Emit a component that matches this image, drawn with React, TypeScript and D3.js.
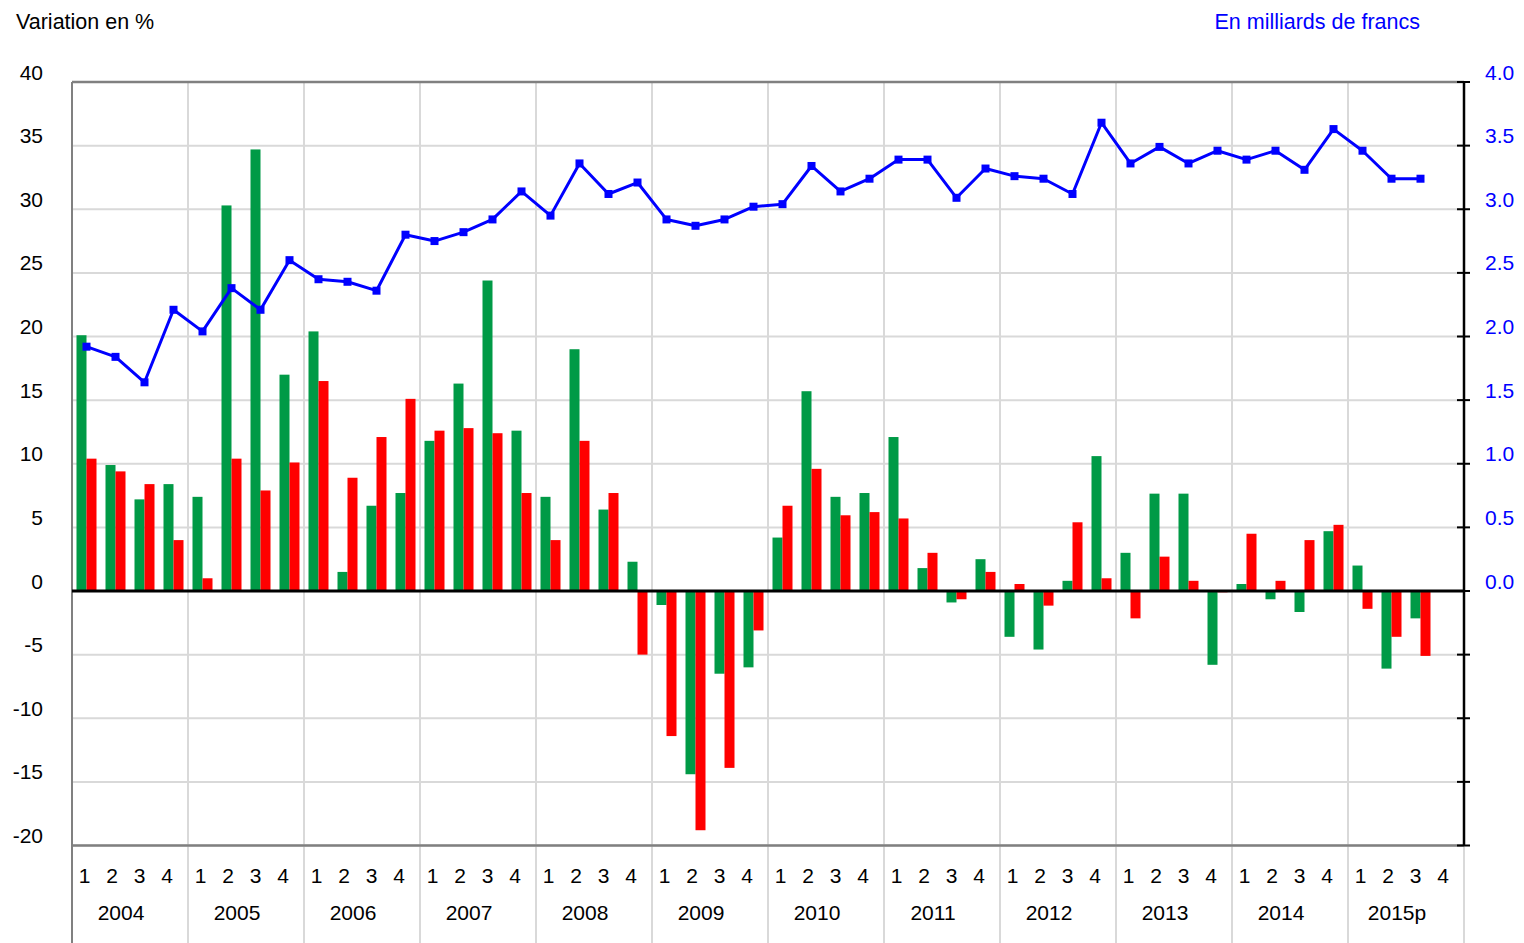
import React from "react";
import * as d3 from "d3";

const years = ["2004", "2005", "2006", "2007", "2008", "2009", "2010", "2011", "2012", "2013", "2014", "2015p"];
const quarterLabels = ["1", "2", "3", "4"];
const leftTicks = [-20, -15, -10, -5, 0, 5, 10, 15, 20, 25, 30, 35, 40];
const rightTickLabels = [0, 0.5, 1, 1.5, 2, 2.5, 3, 3.5, 4];

const greenValues: (number | null)[] = [
  20.1, 9.9, 7.2, 8.4,
  7.4, 30.3, 34.7, 17.0,
  20.4, 1.5, 6.7, 7.7,
  11.8, 16.3, 24.4, 12.6,
  7.4, 19.0, 6.4, 2.3,
  -1.1, -14.4, -6.5, -6.0,
  4.2, 15.7, 7.4, 7.7,
  12.1, 1.8, -0.9, 2.5,
  -3.6, -4.6, 0.8, 10.6,
  3.0, 7.65, 7.65, -5.8,
  0.55, -0.65, -1.65, 4.7,
  2.0, -6.1, -2.15, null,
];
const redValues: (number | null)[] = [
  10.4, 9.4, 8.4, 4.0,
  1.0, 10.4, 7.9, 10.1,
  16.5, 8.9, 12.1, 15.1,
  12.6, 12.8, 12.4, 7.7,
  4.0, 11.8, 7.7, -5.0,
  -11.4, -18.8, -13.9, -3.1,
  6.7, 9.6, 5.95, 6.2,
  5.7, 3.0, -0.65, 1.5,
  0.55, -1.15, 5.4, 1.0,
  -2.15, 2.7, 0.8, -0.1,
  4.5, 0.8, 4.0, 5.2,
  -1.4, -3.6, -5.1, null,
];
const lineValues: (number | null)[] = [
  1.92, 1.84, 1.64, 2.21,
  2.04, 2.38, 2.21, 2.60,
  2.45, 2.43, 2.36, 2.80,
  2.75, 2.82, 2.92, 3.14,
  2.95, 3.36, 3.12, 3.21,
  2.92, 2.87, 2.92, 3.02,
  3.04, 3.34, 3.14, 3.24,
  3.39, 3.39, 3.09, 3.32,
  3.26, 3.24, 3.12, 3.68,
  3.36, 3.49, 3.36, 3.46,
  3.39, 3.46, 3.31, 3.63,
  3.46, 3.24, 3.24, null,
];

const W = 1524;
const H = 943;
const L = 72;
const R = 1464;
const T = 82;
const B = 845.5;
const FONT = "'Liberation Sans', Arial, sans-serif";
const FS = 21;
const GREEN = "#009a46";
const RED = "#ff0000";
const BLUE = "#0000ff";
const GRID = "#d9d9d9";

export default function App() {
  const keys = years.flatMap((y) => quarterLabels.map((q) => `${y}-${q}`));
  const x = d3.scaleBand<string>().domain(keys).range([L, R]).padding(0);
  const xYear = d3.scaleBand<string>().domain(years).range([L, R]).padding(0);
  const qLabelPos = d3.scalePoint<string>().domain(quarterLabels).range([12.5, 95]);
  const yL = d3.scaleLinear().domain([-20, 40]).range([B, T]);
  const yR = d3.scaleLinear().domain([-2, 4]).range([B, T]);
  const bw = 10;

  const pts = keys
    .map((k, i) => ({ k, v: lineValues[i] }))
    .filter((d) => d.v !== null) as { k: string; v: number }[];
  const line = d3
    .line<{ k: string; v: number }>()
    .x((d) => (x(d.k) as number) + x.bandwidth() / 2)
    .y((d) => yR(d.v));

  const bar = (v: number | null, k: string, off: number, color: string, key: string) => {
    if (v === null) return null;
    const c = (x(k) as number) + x.bandwidth() / 2;
    const y0 = yL(0);
    const y1 = yL(v);
    return (
      <rect
        key={key}
        x={c + off}
        width={bw}
        y={Math.min(y0, y1)}
        height={Math.abs(y1 - y0)}
        fill={color}
      />
    );
  };

  return (
    <svg
      width={W}
      height={H}
      style={{ position: "absolute", left: 0, top: 0, background: "#fff" }}
      fontFamily={FONT}
    >
      {leftTicks.map((t) => (
        <line key={"h" + t} x1={L} x2={R} y1={yL(t)} y2={yL(t)} stroke={GRID} strokeWidth={2} />
      ))}
      {years.map((yr) => (
        <line
          key={"v" + yr}
          x1={(xYear(yr) as number) + xYear.bandwidth()}
          x2={(xYear(yr) as number) + xYear.bandwidth()}
          y1={T}
          y2={H}
          stroke={GRID}
          strokeWidth={2}
        />
      ))}
      <line x1={L} x2={R} y1={T} y2={T} stroke="#808080" strokeWidth={2.5} />
      <line x1={L} x2={R} y1={B} y2={B} stroke="#808080" strokeWidth={2.5} />
      <line x1={L} x2={L} y1={T} y2={H} stroke="#808080" strokeWidth={2} />

      {keys.map((k, i) => bar(greenValues[i], k, -bw, GREEN, "g" + k))}
      {keys.map((k, i) => bar(redValues[i], k, 0, RED, "r" + k))}

      <line x1={L} x2={R} y1={yL(0)} y2={yL(0)} stroke="#000" strokeWidth={3} />

      <line x1={R} x2={R} y1={T} y2={B} stroke="#000" strokeWidth={2.5} />
      {leftTicks.map((t) => (
        <line key={"rt" + t} x1={R - 7} x2={R + 6} y1={yL(t)} y2={yL(t)} stroke="#000" strokeWidth={2} />
      ))}

      <path d={line(pts) || ""} fill="none" stroke={BLUE} strokeWidth={3} strokeLinejoin="round" />
      {pts.map((d) => (
        <rect
          key={"m" + d.k}
          x={(x(d.k) as number) + x.bandwidth() / 2 - 4}
          y={yR(d.v) - 4}
          width={8}
          height={8}
          fill={BLUE}
        />
      ))}

      {leftTicks.map((t) => (
        <text key={"ll" + t} x={43} y={yL(t) - 2.5} textAnchor="end" fontSize={FS} fill="#000">
          {t}
        </text>
      ))}
      {rightTickLabels.map((t) => (
        <text key={"rl" + t} x={1485} y={yR(t) - 2.5} textAnchor="start" fontSize={FS} fill={BLUE}>
          {t.toFixed(1)}
        </text>
      ))}

      {keys.map((k, i) => {
        const yr = years[Math.floor(i / 4)];
        const q = quarterLabels[i % 4];
        return (
          <text
            key={"q" + k}
            x={(xYear(yr) as number) + (qLabelPos(q) as number)}
            y={882.5}
            textAnchor="middle"
            fontSize={FS}
            fill="#000"
          >
            {q}
          </text>
        );
      })}
      {years.map((yr) => (
        <text
          key={"y" + yr}
          x={(xYear(yr) as number) + 49}
          y={919.5}
          textAnchor="middle"
          fontSize={FS}
          fill="#000"
        >
          {yr}
        </text>
      ))}

      <text x={16} y={28.5} fontSize={21.5} fill="#000">
        Variation en %
      </text>
      <text x={1420} y={28.5} fontSize={21.5} textAnchor="end" fill={BLUE}>
        En milliards de francs
      </text>
    </svg>
  );
}
